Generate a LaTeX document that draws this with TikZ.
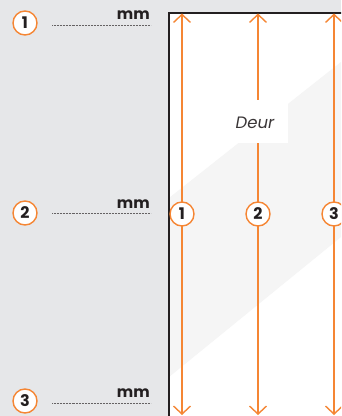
\documentclass[tikz,border=0pt]{standalone}
\usepackage{fontspec}
\setmainfont{Poppins}
\usepackage{xcolor}
\usetikzlibrary{arrows.meta}
\definecolor{doororange}{RGB}{245, 134, 52}
\definecolor{wallgray}{RGB}{230, 231, 233}
\definecolor{bandgray}{RGB}{245, 245, 245}
\definecolor{inkdark}{RGB}{35, 31, 32}

\tikzset{
    numcircle/.style={circle, draw=doororange, line width=1.4pt, fill=white, minimum size=24pt, inner sep=0pt, text=inkdark, font=\fontsize{16}{16}\selectfont\bfseries},
    dimarrow/.style={draw=doororange, line width=1.4pt, {Straight Barb[length=8pt,width=17pt]}-{Straight Barb[length=8pt,width=17pt]}},
    mmlabel/.style={anchor=base east, inner sep=0pt, text=inkdark, font=\fontsize{15.5}{15.5}\selectfont\bfseries},
    dotline/.style={draw=inkdark!70, line width=0.7pt, dash pattern=on 0.7pt off 0.8pt}
}

\begin{document}
\begin{tikzpicture}[x=1pt, y=-1pt]
    \useasboundingbox (0,0) rectangle (341,416);
    \begin{scope}
        \clip (0,0) rectangle (341,416);
        % wall and door
        \fill[wallgray] (0,0) rectangle (341,416);
        \fill[white] (169,13) rectangle (345,420);
        \fill[bandgray] (169,198) -- (341,62) -- (341,237) -- (169,377) -- cycle;
        \draw[inkdark, line width=1.5pt] (169,420) -- (169,13) -- (345,13);

        % dimension arrows on the door
        \foreach \i/\x in {1/182, 2/258, 3/334} {
            \coordinate (top\i) at (\x,13.5);
            \coordinate (bot\i) at (\x,415);
            \draw[dimarrow] (top\i) -- (bot\i);
            \node[numcircle] (door\i) at (\x,214) {\i};
        }
        \node[fill=white, minimum width=53pt, minimum height=43pt, inner sep=0pt] (deurbox) at (261.5,121.5) {};
        \node[text=inkdark!90, font=\fontsize{16.5}{16.5}\selectfont\itshape] (deur) at (255,123) {Deur};
    \end{scope}

    % fill-in rows
    \foreach \i/\y/\b/\d in {1/23/19.3/25, 2/213/208.3/213.3, 3/401/397.7/403.3} {
        \node[numcircle] (row\i) at (25,\y) {\i};
        \node[mmlabel] (mm\i) at (150,\b) {mm};
        \coordinate (dotA\i) at (52,\d);
        \coordinate (dotB\i) at (151,\d);
        \draw[dotline] (dotA\i) -- (dotB\i);
    }
\end{tikzpicture}
\end{document}
